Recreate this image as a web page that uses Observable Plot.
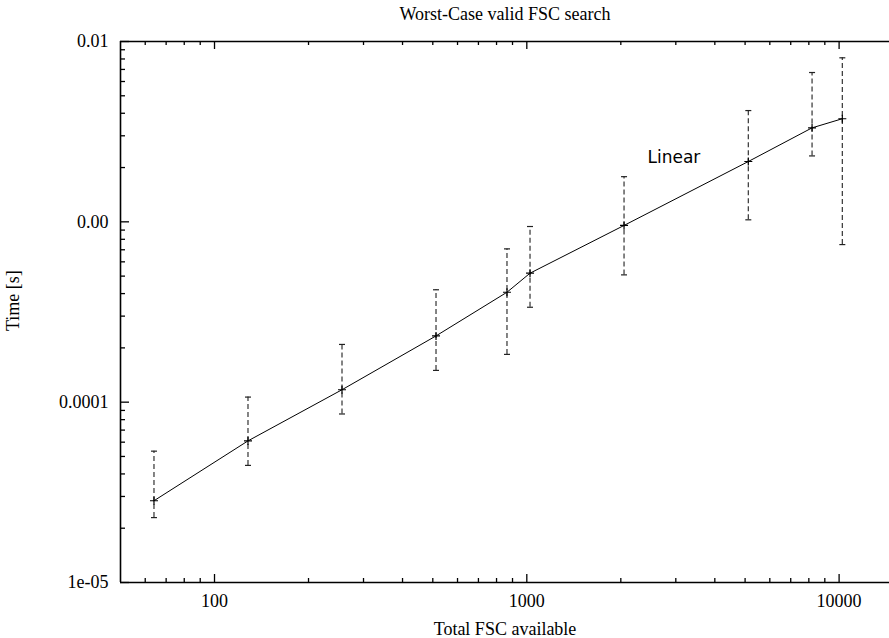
<!DOCTYPE html>
<html>
<head>
<meta charset="utf-8">
<script src="https://cdn.jsdelivr.net/npm/d3@7"></script>
<script src="https://cdn.jsdelivr.net/npm/@observablehq/plot@0.6"></script>
<style>
  html, body { margin: 0; padding: 0; background: #fff; }
</style>
</head>
<body>
<div id="chart"></div>
<script>
// ---- data ----
const fscTotal = [64, 128, 256, 512, 864, 1024, 2048, 5120, 8192, 10240];
const timeMean = [2.84e-5, 6.10e-5, 1.172e-4, 2.33e-4, 4.07e-4, 5.19e-4, 9.55e-4, 2.16e-3, 3.32e-3, 3.73e-3];
const timeLow  = [2.29e-5, 4.46e-5, 8.6e-5, 1.50e-4, 1.84e-4, 3.36e-4, 5.08e-4, 1.026e-3, 2.32e-3, 7.48e-4];
const timeHigh = [5.35e-5, 1.067e-4, 2.09e-4, 4.20e-4, 7.08e-4, 9.42e-4, 1.78e-3, 4.14e-3, 6.73e-3, 8.12e-3];

const xMajorTicks = [100, 1000, 10000];
const xMajorLabels = ["100", "1000", "10000"];
const yMajorTicks = [0.01, 0.001, 0.0001, 0.00001];
const yMajorLabels = ["0.01", "0.00", "0.0001", "1e-05"];

const titleText = "Worst-Case valid FSC search";
const xLabelText = "Total FSC available";
const yLabelText = "Time [s]";
const keyText = "Linear";

// ---- build ----
const data = fscTotal.map((x, i) => ({x, y: timeMean[i], lo: timeLow[i], hi: timeHigh[i]}));

const xMinor = [];
for (const base of [10, 100, 1000]) for (let k = 2; k <= 9; k++) { const v = base * k; if (v > 50 && v < 14500 && !xMajorTicks.includes(v)) xMinor.push(v); }
const yMinor = [];
for (const base of [1e-5, 1e-4, 1e-3]) for (let k = 2; k <= 9; k++) yMinor.push(base * k);

const W = 889, H = 638;
const mL = 120, mR = 0, mT = 41, mB = 56;
const pw = W - mL - mR, ph = H - mT - mB;

const plusSym = { draw(ctx) { ctx.moveTo(-4, 0); ctx.lineTo(4, 0); ctx.moveTo(0, -4); ctx.lineTo(0, 4); } };
const capSym = { draw(ctx) { ctx.moveTo(-3, 0); ctx.lineTo(3, 0); } };

const majLen = 8, minLen = 4;
const fs = 18;

const chart = Plot.plot({
  width: W,
  height: H,
  marginLeft: mL, marginRight: mR, marginTop: mT, marginBottom: mB,
  style: { fontFamily: "'Liberation Serif', 'Times New Roman', serif", fontSize: fs + "px", color: "#000", background: "#fff", overflow: "visible" },
  x: { type: "log", domain: [50, 14500] },
  y: { type: "log", domain: [1e-5, 0.01] },
  marks: [
    // borders (left, bottom, top)
    Plot.ruleX([50], { stroke: "#000", strokeWidth: 1.6 }),
    Plot.ruleY([1e-5], { stroke: "#000", strokeWidth: 1.6 }),
    Plot.ruleY([0.01], { stroke: "#000", strokeWidth: 1.6 }),
    // inward ticks: bottom and top (x)
    Plot.tickX(xMajorTicks, { x: d => d, insetTop: ph - majLen, stroke: "#000", strokeWidth: 1.3 }),
    Plot.tickX(xMajorTicks, { x: d => d, insetBottom: ph - majLen, stroke: "#000", strokeWidth: 1.3 }),
    Plot.tickX(xMinor, { x: d => d, insetTop: ph - minLen, stroke: "#000", strokeWidth: 1.3 }),
    Plot.tickX(xMinor, { x: d => d, insetBottom: ph - minLen, stroke: "#000", strokeWidth: 1.3 }),
    // inward ticks: left (y)
    Plot.tickY(yMajorTicks, { y: d => d, insetRight: pw - majLen - 1, stroke: "#000", strokeWidth: 1.3 }),
    Plot.tickY(yMinor, { y: d => d, insetRight: pw - minLen - 1, stroke: "#000", strokeWidth: 1.3 }),
    // axis labels
    Plot.axisX(xMajorTicks, { anchor: "bottom", tickSize: 0, tickPadding: 12, tickFormat: (d) => xMajorLabels[xMajorTicks.indexOf(d)], label: null, fontSize: fs }),
    Plot.axisY(yMajorTicks, { anchor: "left", tickSize: 0, tickPadding: 12, tickFormat: (d) => yMajorLabels[yMajorTicks.indexOf(d)], label: null, fontSize: fs }),
    // error bars
    Plot.ruleX(data, { x: "x", y1: "lo", y2: "hi", stroke: "#333", strokeWidth: 1.2, strokeDasharray: "5,3" }),
    Plot.dot(data, { x: "x", y: "lo", symbol: capSym, r: 3, stroke: "#222", strokeWidth: 1.2, fill: "none" }),
    Plot.dot(data, { x: "x", y: "hi", symbol: capSym, r: 3, stroke: "#222", strokeWidth: 1.2, fill: "none" }),
    // line + points
    Plot.line(data, { x: "x", y: "y", stroke: "#000", strokeWidth: 1 }),
    Plot.dot(data, { x: "x", y: "y", symbol: plusSym, r: 4, stroke: "#000", strokeWidth: 1.2, fill: "none" }),
    // key
    Plot.text([keyText], { frameAnchor: "top-left", dx: 527, dy: 121, text: d => d, textAnchor: "start", lineAnchor: "bottom", fontFamily: "'DejaVu Sans', sans-serif", fontSize: 17, fill: "#000" }),
    // title, axis titles
    Plot.text([titleText], { frameAnchor: "top", dy: -22, text: d => d, lineAnchor: "bottom", fontSize: fs, fill: "#000" }),
    Plot.text([xLabelText], { frameAnchor: "bottom", dy: 52, text: d => d, lineAnchor: "bottom", fontSize: fs, fill: "#000" }),
    Plot.text([yLabelText], { frameAnchor: "left", dx: -114, dy: 19, rotate: -90, text: d => d, lineAnchor: "top", fontSize: fs, fill: "#000" })
  ]
});
document.getElementById("chart").appendChild(chart);
</script>
</body>
</html>
